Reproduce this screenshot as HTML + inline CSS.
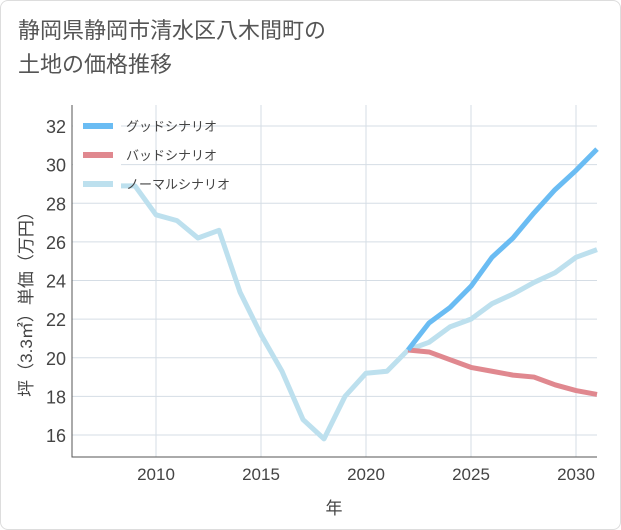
<!DOCTYPE html>
<html><head><meta charset="utf-8"><style>
body{margin:0;background:#fff;}
.card{position:absolute;left:0;top:0;width:619px;height:528px;border:1px solid #ddd;border-radius:8px;background:#fff;}
.title{position:absolute;left:18px;top:14px;font:22px "Liberation Sans","Noto Sans CJK JP",sans-serif;color:#555;line-height:34px;}
svg text{font-family:"Liberation Sans","Noto Sans CJK JP",sans-serif;}
</style></head><body>
<div class="card"></div>
<div class="title">静岡県静岡市清水区八木間町の<br>土地の価格推移</div>
<svg id="c" width="621" height="530" style="position:absolute;left:0;top:0"></svg>
<script>
const years=[2008,2009,2010,2011,2012,2013,2014,2015,2016,2017,2018,2019,2020,2021,2022,2023,2024,2025,2026,2027,2028,2029,2030,2031];
const normal=[28.9,28.9,27.4,27.1,26.2,26.6,23.4,21.2,19.3,16.8,15.8,18.0,19.2,19.3,20.4,20.8,21.6,22.0,22.8,23.3,23.9,24.4,25.2,25.6];
const fYears=[2022,2023,2024,2025,2026,2027,2028,2029,2030,2031];
const good=[20.4,21.8,22.6,23.7,25.2,26.2,27.5,28.7,29.7,30.8];
const bad=[20.4,20.3,19.9,19.5,19.3,19.1,19.0,18.6,18.3,18.1];
const yTicks=[16,18,20,22,24,26,28,30,32];
const xTicks=[2010,2015,2020,2025,2030];
const L=72,R=597,T=105,B=457;
const x=v=>156+(v-2010)*21;
const y=v=>126+(32-v)*19.3125;
const svg=document.getElementById('c');
const NS='http://www.w3.org/2000/svg';
function mk(t,a,p){const e=document.createElementNS(NS,t);for(const k in a)e.setAttribute(k,a[k]);(p||svg).appendChild(e);return e;}
yTicks.forEach(v=>{const l=mk('line',{x1:L,x2:R,y1:y(v),y2:y(v),stroke:'#d5dde5'});


const t=mk('text',{x:66,y:y(v)+7,'text-anchor':'end','font-size':18,fill:'#444'});t.textContent=v;

});
xTicks.forEach(v=>{const l=mk('line',{x1:x(v),x2:x(v),y1:T,y2:B,stroke:'#d5dde5'});


const t=mk('text',{x:x(v),y:480,'text-anchor':'middle','font-size':17,fill:'#444'});t.textContent=v;

});
const ax=mk('path',{d:`M${L} ${T}V${B}H${R}`,fill:'none',stroke:'#555'});


function line(xs,vs,c,n){const p=mk('polyline',{points:xs.map((a,i)=>x(a)+','+y(vs[i])).join(' '),fill:'none',stroke:c,'stroke-width':5,'stroke-linejoin':'round'});

}
line(years,normal,'#bde0ee','normal-line');
line(fYears,bad,'#e0888f','bad-line');
line(fYears,good,'#6abcf3','good-line');
const lb=mk('rect',{x:73,y:110,width:48,height:88,fill:'#fff'});


const leg=[['グッドシナリオ','#6abcf3',126],['バッドシナリオ','#e0888f',155],['ノーマルシナリオ','#bde0ee',184]];
leg.forEach(([n,c,yy])=>{const r=mk('rect',{x:83,y:yy-3,width:30,height:6,fill:c});


const t=mk('text',{x:126,y:yy+5,'font-size':13,fill:'#444'});t.textContent=n;

});
const xt=mk('text',{x:334,y:514,'text-anchor':'middle','font-size':17,fill:'#444'});xt.textContent='年';


const yt=mk('text',{x:0,y:0,transform:'translate(32,300) rotate(-90)','text-anchor':'middle','font-size':17,fill:'#444'});yt.textContent='坪（3.3㎡）単価（万円）';


</script>
</body></html>
